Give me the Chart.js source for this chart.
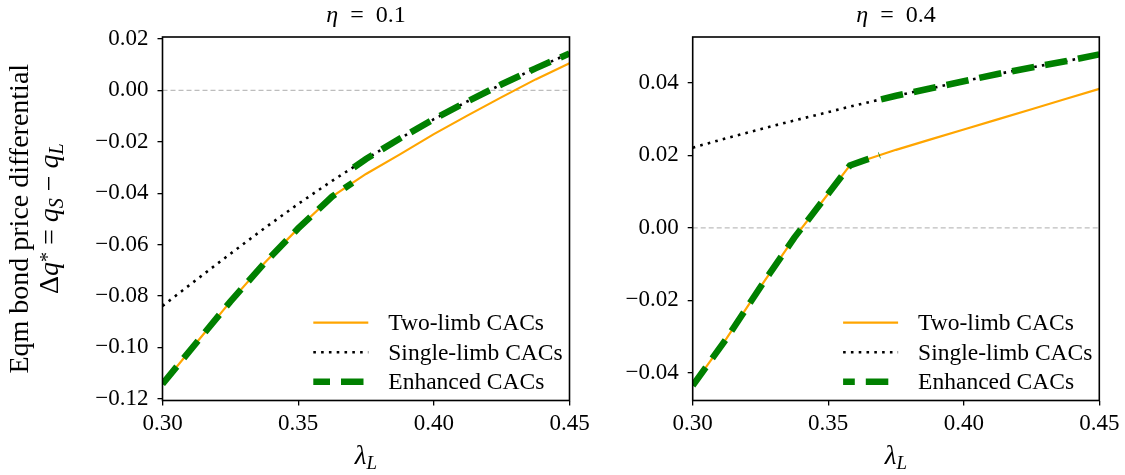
<!DOCTYPE html>
<html>
<head>
<meta charset="utf-8">
<script src="https://cdn.jsdelivr.net/npm/chart.js@4.4.1/dist/chart.umd.min.js"></script>
<style>
  body { margin: 0; background: #fff; }
  #wrap { position: relative; width: 1125px; height: 475px; }
  canvas { position: absolute; top: 0; }
  #left { left: 0; }
  #right { left: 560px; }
</style>
</head>
<body>
<div id="wrap">
  <canvas id="left" width="600" height="475"></canvas>
  <canvas id="right" width="565" height="475"></canvas>
</div>
<script>
// Données (lambda_L en abscisse)
const xTicks = [0.30, 0.35, 0.40, 0.45];
const yTicksLeft = [-0.12, -0.10, -0.08, -0.06, -0.04, -0.02, 0.00, 0.02];
const yTicksRight = [-0.04, -0.02, 0.00, 0.02, 0.04];
const legendLabels = ['Two-limb CACs', 'Single-limb CACs', 'Enhanced CACs'];

// eta = 0.1
const lambdaLeft = [0.30, 0.3125, 0.325, 0.3375, 0.35, 0.3625, 0.375, 0.3875, 0.40, 0.4125, 0.425, 0.4375, 0.45];
const twoLimbLeft = [-0.1143, -0.0982, -0.0822, -0.0673, -0.0537, -0.0413, -0.0325, -0.0249, -0.0170, -0.0097, -0.0026, 0.0043, 0.0106];
const singleLimbLeft = [-0.0839, -0.0737, -0.0636, -0.0537, -0.0442, -0.0352, -0.0267, -0.0187, -0.0112, -0.0042, 0.0024, 0.0086, 0.0144];
const lambdaEnhLeft = [0.30, 0.3125, 0.325, 0.3375, 0.35, 0.3625, 0.370, 0.3702, 0.3705, 0.375, 0.3875, 0.40, 0.4125, 0.425, 0.4375, 0.45];
const enhancedLeft = [-0.1143, -0.0982, -0.0822, -0.0673, -0.0537, -0.0413, -0.0360, null, -0.0300, -0.0267, -0.0187, -0.0112, -0.0042, 0.0024, 0.0086, 0.0144];

// eta = 0.4
const lambdaRight = [0.30, 0.3125, 0.325, 0.3375, 0.35, 0.358, 0.3625, 0.375, 0.3875, 0.40, 0.4125, 0.425, 0.4375, 0.45];
const twoLimbRight = [-0.0435, -0.0305, -0.0163, -0.0027, 0.0094, 0.0172, 0.0184, 0.0215, 0.0243, 0.0271, 0.0299, 0.0327, 0.0355, 0.0383];
const singleLimbRight = [0.0221, 0.0247, 0.0272, 0.0296, 0.0319, 0.0334, 0.0342, 0.0364, 0.0384, 0.0404, 0.0424, 0.0442, 0.0459, 0.0478];
const lambdaEnhRight = [0.30, 0.3125, 0.325, 0.3375, 0.35, 0.358, 0.3625, 0.369, 0.3692, 0.3695, 0.375, 0.3875, 0.40, 0.4125, 0.425, 0.4375, 0.45];
const enhancedRight = [-0.0435, -0.0305, -0.0163, -0.0027, 0.0094, 0.0172, 0.0184, 0.0200, null, 0.0354, 0.0364, 0.0384, 0.0404, 0.0424, 0.0442, 0.0459, 0.0478];

const SERIF = '"Liberation Serif", "DejaVu Serif", serif';

function pts(xs, ys) {
  return xs.map((x, i) => ({ x: x, y: ys[i] }));
}

function fmtY(v) {
  const r = Math.round(v * 100);
  return (r < 0 ? '\u2212' : '') + Math.abs(r / 100).toFixed(2);
}

// texte "riche" (indices / exposants), centré sur x
function drawParts(ctx, parts, x, y) {
  let w = 0;
  parts.forEach(p => { ctx.font = p[1]; w += ctx.measureText(p[0]).width; });
  let cx = x - w / 2;
  parts.forEach(p => {
    ctx.font = p[1];
    ctx.fillText(p[0], cx, y + (p[2] || 0));
    cx += ctx.measureText(p[0]).width;
  });
}

const decor = {
  id: 'decor',
  afterDatasetsDraw(chart) {
    const a = chart.chartArea, ctx = chart.ctx;
    ctx.save();
    ctx.strokeStyle = '#000';
    ctx.lineWidth = 1.6;
    ctx.strokeRect(a.left, a.top, a.right - a.left, a.bottom - a.top);
    ctx.restore();
  },
  afterDraw(chart, args, opts) {
    const a = chart.chartArea, ctx = chart.ctx;
    const cx = (a.left + a.right) / 2;
    ctx.save();
    ctx.fillStyle = '#000';
    ctx.textBaseline = 'alphabetic';

    // titre
    drawParts(ctx, [['\u03b7', 'italic 24px ' + SERIF], ['\u2002=\u2002', '24px ' + SERIF], [opts.eta, '24px ' + SERIF]], cx, 22);

    // axe x : lambda_L
    drawParts(ctx, [['\u03bb', 'italic 27px ' + SERIF], ['L', 'italic 19px ' + SERIF, 5]], cx, 464);

    // axe y (panneau de gauche seulement)
    if (opts.yLabel) {
      const cy = (a.top + a.bottom) / 2;
      ctx.save();
      ctx.translate(27.5, cy);
      ctx.rotate(-Math.PI / 2);
      drawParts(ctx, [['Eqm bond price differential', '28px ' + SERIF]], 0, 0);
      ctx.restore();
      ctx.save();
      ctx.translate(58, cy);
      ctx.rotate(-Math.PI / 2);
      const f = '28px ' + SERIF, fi = 'italic 28px ' + SERIF, fs = 'italic 20px ' + SERIF;
      drawParts(ctx, [['\u0394', f], ['q', fi], ['*', '20px ' + SERIF, -4], [' = ', f], ['q', fi], ['S', fs, 5],
        [' \u2212 ', f], ['q', fi], ['L', fs, 5]], 0, 0);
      ctx.restore();
    }

    // légende
    const x0 = a.right - 256.2, x1 = a.right - 201.2, tx = a.right - 181.2;
    const rows = [a.bottom - 77.8, a.bottom - 48.2, a.bottom - 18.8];
    ctx.lineCap = 'butt';
    // Two-limb
    ctx.strokeStyle = '#FFA500'; ctx.lineWidth = 2.2; ctx.setLineDash([]);
    ctx.beginPath(); ctx.moveTo(x0, rows[0]); ctx.lineTo(x1, rows[0]); ctx.stroke();
    // Single-limb
    ctx.strokeStyle = '#000'; ctx.lineWidth = 2.6; ctx.setLineDash([2.6, 5.2]); ctx.lineDashOffset = 0;
    ctx.beginPath(); ctx.moveTo(x0, rows[1]); ctx.lineTo(x1, rows[1]); ctx.stroke();
    // Enhanced
    ctx.strokeStyle = '#008000'; ctx.lineWidth = 6.5; ctx.setLineDash([22.5, 11]); ctx.lineDashOffset = opts.dashOffset;
    ctx.beginPath(); ctx.moveTo(x0, rows[2]); ctx.lineTo(x1, rows[2]); ctx.stroke();
    ctx.setLineDash([]);
    ctx.font = '23.5px ' + SERIF;
    ctx.textAlign = 'left';
    legendLabels.forEach((t, i) => ctx.fillText(t, tx, rows[i] + 7.5));
    ctx.restore();
  }
};

function makeChart(p) {
  const tickFont = { family: SERIF, size: 23 };
  const gridOpts = { drawOnChartArea: false, drawTicks: true, tickLength: 5, color: '#000', lineWidth: 1.3 };
  return new Chart(document.getElementById(p.id), {
    type: 'line',
    data: {
      datasets: [
        { label: 'Enhanced CACs', data: p.enh, borderColor: '#008000', borderWidth: 6.5, borderDash: [22.5, 11], order: 0, clip: 0 },
        { label: 'Single-limb CACs', data: p.single, borderColor: '#000', borderWidth: 2.6, borderDash: [2.6, 5.2], order: 1, clip: 0 },
        { label: 'Two-limb CACs', data: p.two, borderColor: '#FFA500', borderWidth: 2.2, order: 2, clip: 0 },
        { label: 'zero', data: [{ x: 0.30, y: 0 }, { x: 0.45, y: 0 }], borderColor: '#bdbdbd', borderWidth: 1.2, borderDash: [5, 3], order: 3, clip: 0 }
      ]
    },
    options: {
      responsive: false,
      animation: false,
      devicePixelRatio: 1,
      layout: { padding: { top: 37, left: 0, right: p.padRight, bottom: 0 } },
      elements: { point: { radius: 0 }, line: { tension: 0, fill: false } },
      plugins: {
        legend: { display: false },
        tooltip: { enabled: false },
        decor: { eta: p.eta, yLabel: p.yLabel, dashOffset: p.dashOffset }
      },
      scales: {
        x: {
          type: 'linear', min: 0.30, max: 0.45,
          afterBuildTicks: s => { s.ticks = xTicks.map(v => ({ value: v })); },
          afterFit: s => { s.height = 74.5; s.paddingLeft = 0; s.paddingRight = 0; },
          grid: gridOpts,
          border: { display: false },
          ticks: { color: '#000', font: tickFont, padding: 5, maxRotation: 0, autoSkip: false, callback: v => v.toFixed(2) }
        },
        y: {
          type: 'linear', min: p.yMin, max: p.yMax,
          afterBuildTicks: s => { s.ticks = p.yTicks.map(v => ({ value: v })); },
          afterFit: s => { s.width = p.yWidth; s.paddingTop = 0; s.paddingBottom = 0; },
          grid: gridOpts,
          border: { display: false },
          ticks: { color: '#000', font: tickFont, padding: 9, autoSkip: false, callback: v => fmtY(v) }
        }
      }
    },
    plugins: [decor]
  });
}

makeChart({
  id: 'left', eta: '0.1', yMin: -0.1207, yMax: 0.0208, yTicks: yTicksLeft, yWidth: 162.5, padRight: 30.5,
  yLabel: true, dashOffset: 5.8,
  two: pts(lambdaLeft, twoLimbLeft), single: pts(lambdaLeft, singleLimbLeft), enh: pts(lambdaEnhLeft, enhancedLeft)
});

makeChart({
  id: 'right', eta: '0.4', yMin: -0.0476, yMax: 0.0526, yTicks: yTicksRight, yWidth: 132.7, padRight: 25.7,
  yLabel: false, dashOffset: 10.8,
  two: pts(lambdaRight, twoLimbRight), single: pts(lambdaRight, singleLimbRight), enh: pts(lambdaEnhRight, enhancedRight)
});
</script>
</body>
</html>
